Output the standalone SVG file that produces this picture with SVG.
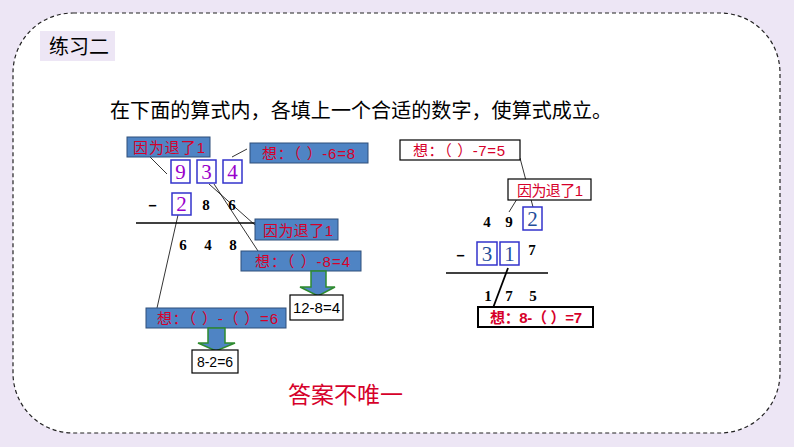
<svg xmlns="http://www.w3.org/2000/svg" width="794" height="447" viewBox="0 0 794 447">
<style>
.cjk{font-family:"Liberation Sans","Noto Sans CJK SC",sans-serif}
.bl{fill:#4F84C4;stroke:#2F4F7A;stroke-width:1}
.wb{fill:#fff;stroke:#000;stroke-width:1.2}
.rt{fill:#D6002A;font-size:15px}
.dg{fill:none;stroke:#3333CC;stroke-width:1.5}
.pd{fill:#9900CC;font-family:"Liberation Serif",serif;font-size:21px}
.bd{fill:#1F4E9A;font-family:"Liberation Serif",serif;font-size:21px}
.sm{font-family:"Liberation Serif",serif;font-size:15px;font-weight:bold;fill:#000}
.ln{stroke:#000;stroke-width:0.8;fill:none}
.ga{fill:#4F84C4;stroke:#2E8B2E;stroke-width:1.5}
</style>
<rect width="794" height="447" fill="#EDE6F5"/>
<rect x="13" y="13" width="767" height="420" rx="60" ry="60" fill="#fff" stroke="#222" stroke-width="1.2" stroke-dasharray="4 3"/>
<g id="title">
<rect x="40" y="31" width="75" height="30" fill="#EDE6F5"/>
<text x="49" y="54" class="cjk" font-size="20" fill="#000">练习二</text>
</g>
<g id="instruction">
<text x="110" y="118" class="cjk" font-size="20" fill="#000" textLength="502">在下面的算式内，各填上一个合适的数字，使算式成立。</text>
</g>
<g id="connectors">
<line class="ln" x1="150" y1="157" x2="167" y2="174"/>
<line class="ln" x1="232" y1="157" x2="247" y2="149"/>
<line class="ln" x1="209" y1="184" x2="255" y2="225"/>
<line class="ln" x1="214" y1="184" x2="258" y2="251"/>
<line class="ln" x1="178" y1="215" x2="157" y2="308"/>
<line class="ln" x1="520" y1="158" x2="533" y2="207"/>
<line class="ln" x1="517" y1="199" x2="509" y2="212"/>
<line x1="508" y1="268" x2="493" y2="308" stroke="#000" stroke-width="1.8"/>
</g>
<g id="left-sum">
<rect x="127" y="137" width="83" height="20" class="bl"/>
<text x="133" y="153" class="cjk rt" textLength="72">因为退了1</text>
<rect x="171" y="160" width="19" height="23" class="dg"/>
<text x="180.5" y="179" class="pd" text-anchor="middle">9</text>
<rect x="197" y="160" width="19" height="23" class="dg"/>
<text x="206.5" y="179" class="pd" text-anchor="middle">3</text>
<rect x="223" y="160" width="19" height="23" class="dg"/>
<text x="232.5" y="179" class="pd" text-anchor="middle">4</text>
<rect x="250" y="143" width="118" height="20" class="bl"/>
<text x="262" y="159" class="cjk rt" textLength="93">想：（ ）-6=8</text>
<text x="152" y="210" class="sm" text-anchor="middle">－</text>
<rect x="172" y="193" width="19" height="22" class="dg"/>
<text x="181.5" y="211" class="pd" text-anchor="middle">2</text>
<text x="206" y="210" class="sm" text-anchor="middle">8</text>
<text x="232" y="210" class="sm" text-anchor="middle">6</text>
<line x1="136" y1="223" x2="257" y2="223" stroke="#000" stroke-width="1.5"/>
<rect x="255" y="219" width="83" height="21" class="bl"/>
<text x="263" y="236" class="cjk rt" textLength="70">因为退了1</text>
<text x="183" y="250" class="sm" text-anchor="middle">6</text>
<text x="208" y="250" class="sm" text-anchor="middle">4</text>
<text x="233" y="250" class="sm" text-anchor="middle">8</text>
<rect x="241" y="251" width="120" height="20" class="bl"/>
<text x="255" y="267" class="cjk rt" textLength="95">想：（ ）-8=4</text>
<path d="M311 271 H326 V287 H335 L318 296 L300 287 H311 Z" class="ga"/>
<rect x="290" y="295" width="53" height="25" class="wb"/>
<text x="316.5" y="313" class="cjk" font-size="15" text-anchor="middle">12-8=4</text>
<rect x="146" y="308" width="140" height="20" class="bl"/>
<text x="157" y="324" class="cjk rt" textLength="121">想：（ ）-（ ）=6</text>
<path d="M208 328 H225 V343 H235 L216 351 L198 343 H208 Z" class="ga"/>
<rect x="192" y="350" width="46" height="23" class="wb"/>
<text x="215" y="367" class="cjk" font-size="14" text-anchor="middle">8-2=6</text>
</g>
<g id="answer">
<text x="288" y="403" class="cjk" font-size="23" fill="#D6002A">答案不唯一</text>
</g>
<g id="right-sum">
<rect x="400" y="140" width="120" height="20" class="wb"/>
<text x="413" y="156" class="cjk rt" textLength="92">想：（ ）-7=5</text>
<rect x="508" y="179" width="83" height="21" class="wb"/>
<text x="517" y="196" class="cjk rt" textLength="66">因为退了1</text>
<text x="487" y="227" class="sm" text-anchor="middle">4</text>
<text x="509" y="227" class="sm" text-anchor="middle">9</text>
<rect x="523" y="207" width="19" height="23" class="dg"/>
<text x="532.5" y="226" class="bd" text-anchor="middle">2</text>
<text x="460" y="260" class="sm" text-anchor="middle">－</text>
<rect x="477" y="242" width="20" height="23" class="dg"/>
<text x="487" y="261" class="bd" text-anchor="middle">3</text>
<rect x="500" y="242" width="19" height="23" class="dg"/>
<text x="509.5" y="261" class="bd" text-anchor="middle">1</text>
<text x="532" y="255" class="sm" text-anchor="middle">7</text>
<line x1="446" y1="273" x2="548" y2="273" stroke="#000" stroke-width="1.5"/>
<text x="488" y="301" class="sm" text-anchor="middle">1</text>
<text x="509" y="301" class="sm" text-anchor="middle">7</text>
<text x="533" y="301" class="sm" text-anchor="middle">5</text>
<rect x="478" y="307" width="115" height="20" fill="#fff" stroke="#000" stroke-width="2"/>
<text x="490" y="323" class="cjk rt" font-weight="bold" textLength="92">想：8-（ ）=7</text>
</g>
</svg>
